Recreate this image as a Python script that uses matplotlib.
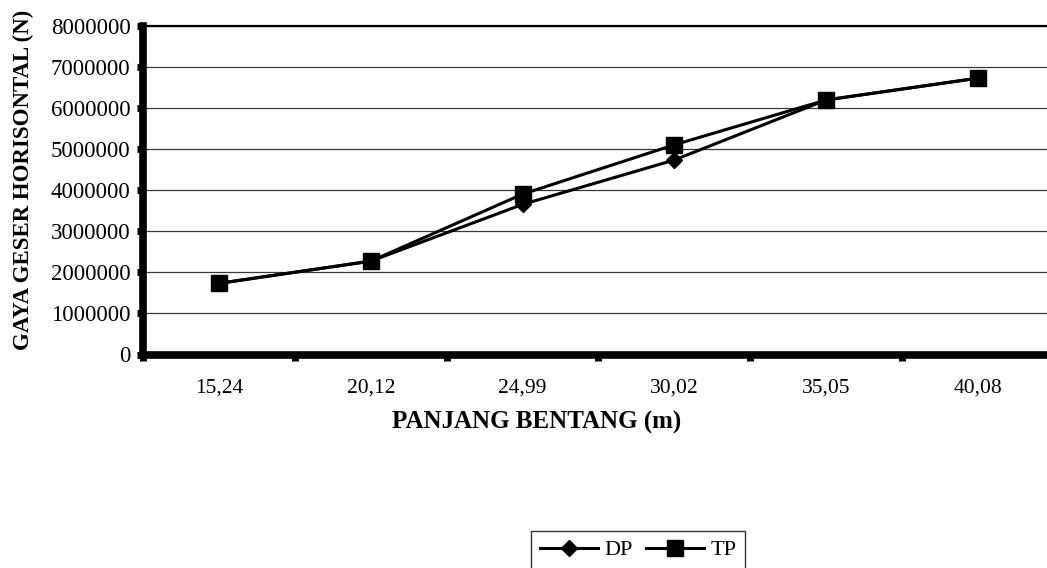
import matplotlib
matplotlib.use("Agg")
import matplotlib.pyplot as plt
import numpy as np

# Span lengths (m) and horizontal shear force (N)
spans = ["15,24", "20,12", "24,99", "30,02", "35,05", "40,08"]
dp = [1730000, 2270000, 3650000, 4730000, 6190000, 6720000]
tp = [1730000, 2270000, 3900000, 5100000, 6190000, 6720000]
yticks = [0, 1000000, 2000000, 3000000, 4000000, 5000000, 6000000, 7000000, 8000000]

plt.rcParams["font.family"] = ["Liberation Serif", "DejaVu Serif"]

W, H, DPI = 1047, 568, 100
fig = plt.figure(figsize=(W / DPI, H / DPI), dpi=DPI)
fig.patch.set_facecolor("white")

left, right = 143 / W, 1054 / W
bottom, top = 1 - 354.5 / H, 1 - 25.5 / H
ax = fig.add_axes([left, bottom, right - left, top - bottom])
axw_px, axh_px = 1054 - 143, 354.5 - 25.5

x = np.arange(len(spans))
ax.plot(x, dp, color="black", lw=2.2, marker="D", markersize=8.5,
        markerfacecolor="black", markeredgecolor="black", label="DP", zorder=3)
ax.plot(x, tp, color="black", lw=2.2, marker="s", markersize=11,
        markerfacecolor="black", markeredgecolor="black", label="TP", zorder=4)

ax.set_xlim(-0.5, len(spans) - 0.5)
ax.set_ylim(0, 8000000)

# Category labels centred, tick marks at category boundaries
ax.set_xticks(x)
ax.set_xticklabels(spans, fontsize=15.5)
ax.tick_params(axis="x", which="major", length=0, pad=17)
ax.set_xticks(np.arange(-0.5, len(spans) - 0.4, 1.0), minor=True)
ax.tick_params(axis="x", which="minor", length=4, width=5, direction="out", color="black")

ax.set_yticks(yticks)
ax.set_yticklabels([str(v) for v in yticks], fontsize=16.5)
ax.tick_params(axis="y", length=4, width=5, direction="out", pad=5, color="black")

ax.grid(axis="y", color="#3a3a3a", lw=0.9, zorder=1)
ax.set_axisbelow(True)

ax.spines["left"].set_linewidth(5.5)
ax.spines["bottom"].set_linewidth(5.5)
ax.spines["top"].set_linewidth(1.6)
ax.spines["right"].set_visible(False)
for s in ax.spines.values():
    s.set_color("black")

ax.set_xlabel("PANJANG BENTANG (m)", fontsize=18, fontweight="bold")
ax.xaxis.set_label_coords((537 - 143) / axw_px, -(434 - 354.5) / axh_px)
ax.xaxis.label.set_va("bottom")
ax.set_ylabel("GAYA GESER HORISONTAL (N)", fontsize=16.5, fontweight="bold")
ax.yaxis.set_label_coords(-(143 - 34) / axw_px, 0.53)

leg = fig.legend(loc="upper left", bbox_to_anchor=(531 / W, 1 - 531 / H), ncol=2,
                 fontsize=16, frameon=True, fancybox=False, edgecolor="black",
                 handlelength=2.6, handletextpad=0.3, columnspacing=0.6,
                 borderpad=0.4, borderaxespad=0)
leg.get_frame().set_linewidth(1.0)

fig.savefig("out.png", dpi=DPI)
